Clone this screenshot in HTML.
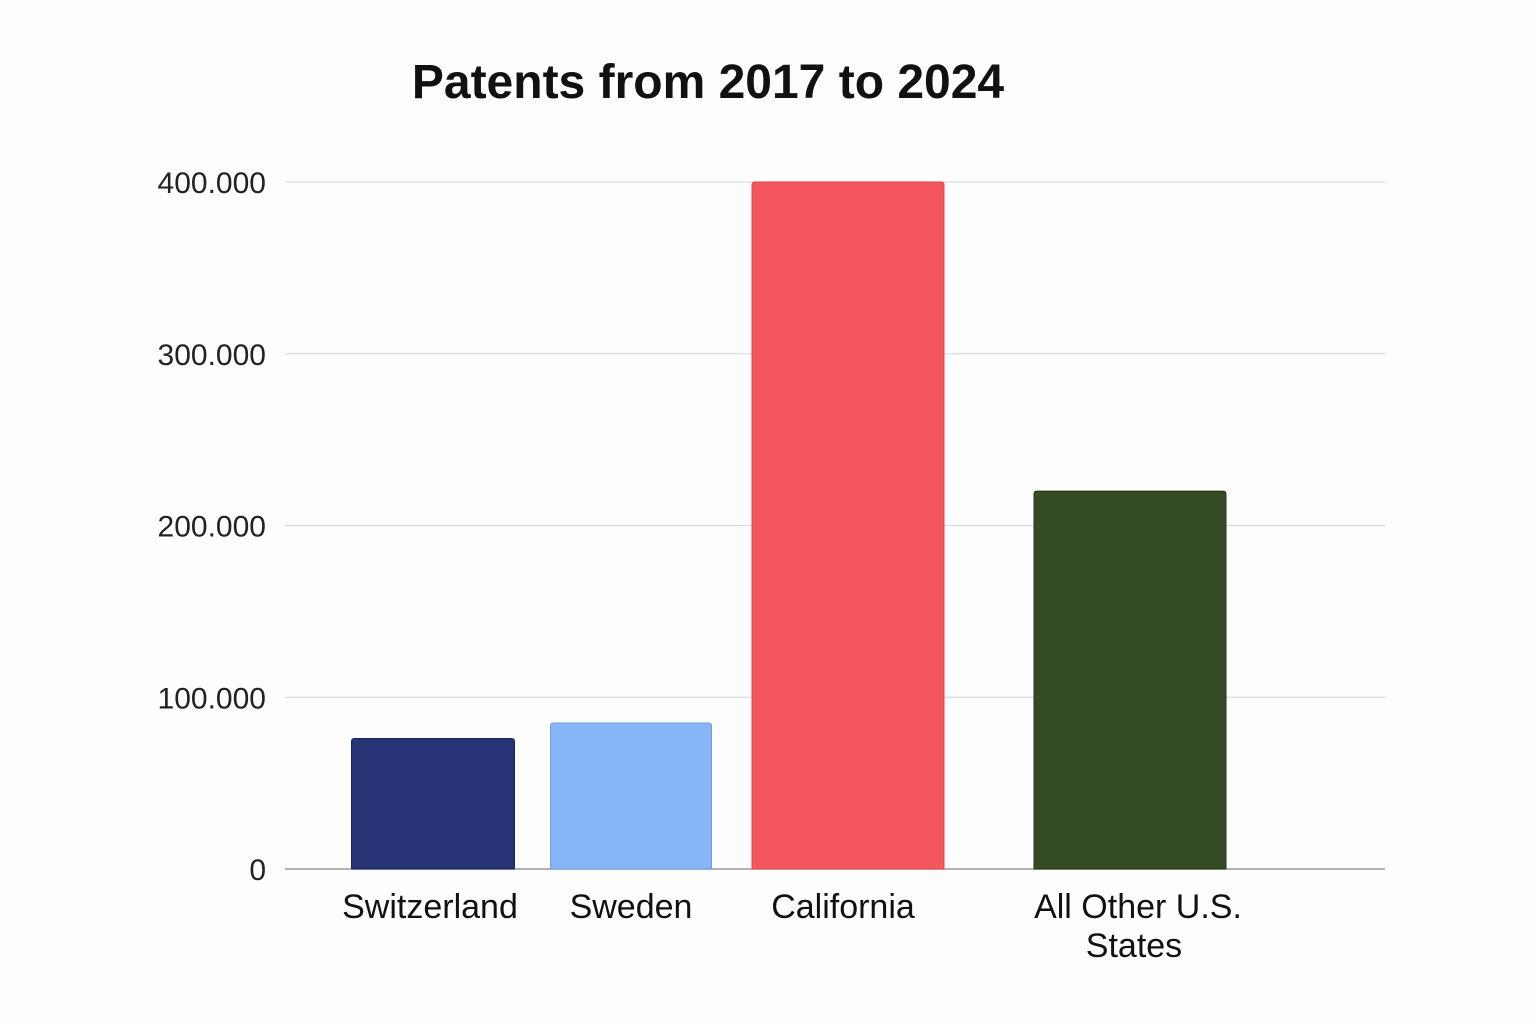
<!DOCTYPE html>
<html><head><meta charset="utf-8"><style>
body{margin:0;background:#fdfdfd;}
svg{display:block;font-family:"Liberation Sans",sans-serif;}
</style></head><body>
<svg id="chart" width="1536" height="1024">
<rect width="1536" height="1024" fill="#fdfdfd"/>
<text x="708" y="98" text-anchor="middle" font-size="48" font-weight="600" fill="#111">Patents from 2017 to 2024</text>
<g id="grid"></g><g id="bars"></g><g id="labels"></g>
</svg>
<script>
const categories = ["Switzerland", "Sweden", "California", "All Other U.S.|States"];
const values = [76000, 85000, 400000, 220000];
const ticks = [0, 100000, 200000, 300000, 400000];
const tickLabels = ["0", "100.000", "200.000", "300.000", "400.000"];
const colors = ["#263475", "#86b6f7", "#f5555c", "#344b23"];
const strokes = ["#1b2658", "#6e9fe0", "#e8434b", "#24361a"];
const layout = { centers: [433, 631, 848, 1130], widths: [163, 161, 192, 192], labelShift: [-3, 0, -5, 4] };

const NS = "http://www.w3.org/2000/svg";
const y0 = 869, yTop = 182, vMax = 400000;
function y(v){ return y0 - (v / vMax) * (y0 - yTop); }
function mk(tag, attrs, parent){ const e = document.createElementNS(NS, tag); for (const k in attrs) e.setAttribute(k, attrs[k]); parent.appendChild(e); return e; }

const grid = document.getElementById("grid");
ticks.forEach((t, i) => {
  const l = mk("line", {x1: 285, x2: 1385, y1: y(t), y2: y(t), stroke: i === 0 ? "#999" : "#dcdcdc", "stroke-width": i === 0 ? 1.5 : 1.2}, grid);
  
  
  const tx = mk("text", {x: 266, y: y(t) + 11, "text-anchor": "end", "font-size": 30, fill: "#222"}, grid);
  tx.textContent = tickLabels[i];
  
  
});

const bars = document.getElementById("bars"), labels = document.getElementById("labels");
categories.forEach((c, i) => {
  const w = layout.widths[i], x = layout.centers[i] - w / 2, top = y(values[i]);
  const r = mk("path", {d: `M${x},${y0} V${top + 3} Q${x},${top} ${x + 3},${top} H${x + w - 3} Q${x + w},${top} ${x + w},${top + 3} V${y0} Z`, fill: colors[i], stroke: strokes[i], "stroke-width": 1}, bars);
  
  
  const t = mk("text", {"text-anchor": "middle", "font-size": 34, fill: "#111"}, labels);
  
  
  c.split("|").forEach((line, j) => {
    const s = mk("tspan", {x: layout.centers[i] + layout.labelShift[i] + (j === 0 && i === 3 ? 4 : 0), y: 918 + j * 39}, t);
    s.textContent = line;
  });
});
</script>
</body></html>
